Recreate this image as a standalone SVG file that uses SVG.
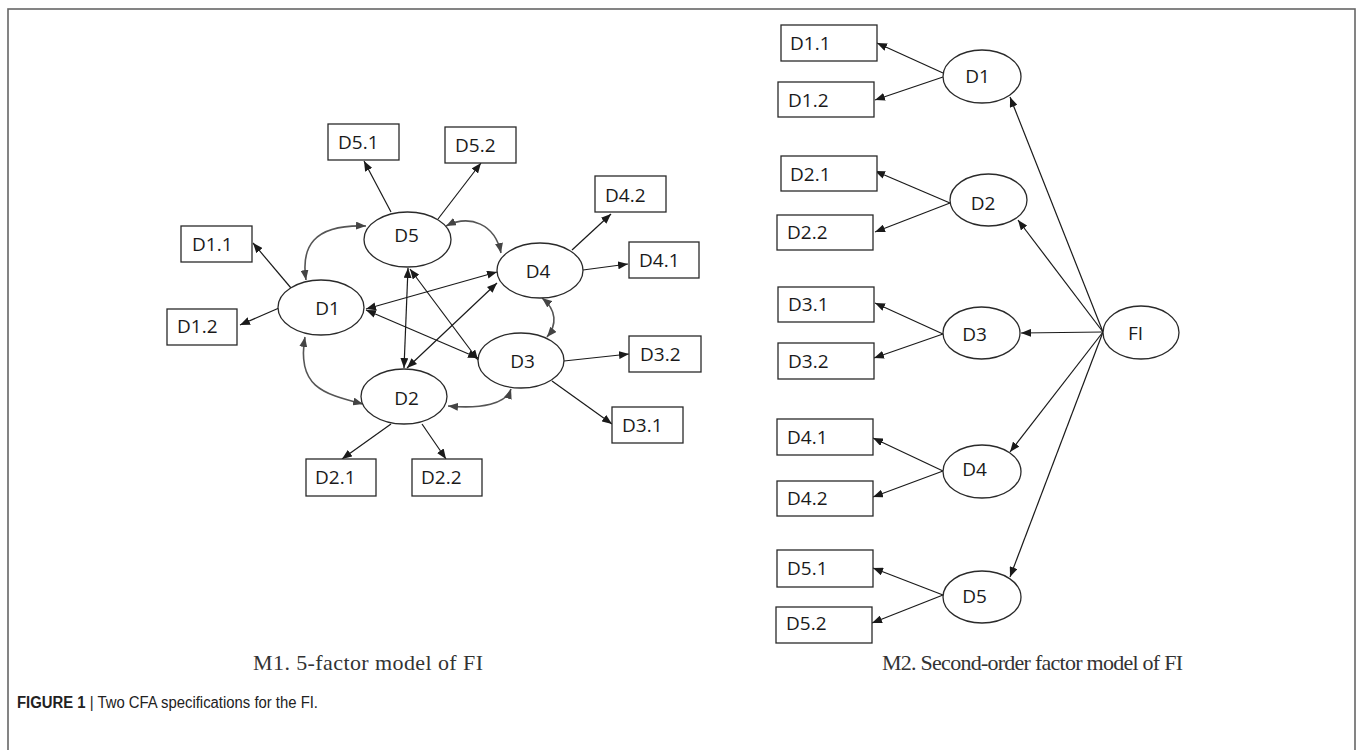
<svg xmlns="http://www.w3.org/2000/svg" width="1357" height="750" viewBox="0 0 1357 750">
<style>
.box{fill:#fff;stroke:#2a2a2a;stroke-width:1.3}
.ell{fill:#fff;stroke:#2a2a2a;stroke-width:1.3}
.lbl{font-family:"Open Sans","Liberation Sans",sans-serif;font-size:19px;fill:#1a1a1a}
.c{text-anchor:middle}
.ln{fill:none;stroke:#1a1a1a;stroke-width:1.2;marker-end:url(#ah)}
.dbl{fill:none;stroke:#1a1a1a;stroke-width:1.2;marker-start:url(#ah);marker-end:url(#ah)}
.cv{fill:none;stroke:#555;stroke-width:1.6;marker-start:url(#ahg);marker-end:url(#ahg)}
.sub{font-family:"Liberation Serif",serif;font-size:22px;fill:#333}
.cap{font-family:"Liberation Sans",Arial,sans-serif;font-size:16px;fill:#222}
</style>
<defs>
<marker id="ah" markerUnits="userSpaceOnUse" markerWidth="10" markerHeight="8" viewBox="0 0 10 8" refX="10" refY="4" orient="auto-start-reverse">
<path d="M0,0 L10,4 L0,8 z" fill="#1a1a1a"/>
</marker>
<marker id="ahg" markerUnits="userSpaceOnUse" markerWidth="10" markerHeight="8" viewBox="0 0 10 8" refX="10" refY="4" orient="auto-start-reverse">
<path d="M0,0 L10,4 L0,8 z" fill="#444"/>
</marker>
</defs>
<rect x="8" y="9" width="1347" height="760" fill="#fff" stroke="#666" stroke-width="1.6"/>

<g id="connectors">
<!-- M1 -->
<line class="ln" x1="391" y1="212" x2="364" y2="161"/>
<line class="ln" x1="438" y1="219" x2="481" y2="163"/>
<line class="ln" x1="291" y1="288" x2="253" y2="243"/>
<line class="ln" x1="279" y1="308" x2="240" y2="325"/>
<line class="ln" x1="572" y1="250" x2="611" y2="214"/>
<line class="ln" x1="583" y1="270" x2="628" y2="264"/>
<line class="ln" x1="564" y1="361" x2="629" y2="354"/>
<line class="ln" x1="552" y1="381" x2="612" y2="424"/>
<line class="ln" x1="391" y1="424" x2="342" y2="459"/>
<line class="ln" x1="422" y1="424" x2="446" y2="459"/>
<line class="dbl" x1="366" y1="309" x2="497" y2="272"/>
<line class="dbl" x1="407" y1="368" x2="497" y2="283"/>
<line class="dbl" x1="408" y1="268" x2="404" y2="368"/>
<line class="dbl" x1="410" y1="269" x2="478" y2="360"/>
<line class="dbl" x1="366" y1="310" x2="478" y2="358"/>
<path class="cv" d="M306,280 C301,248 312,224 366,226"/>
<path class="cv" d="M446,226 C470,214 495,224 501,253"/>
<path class="cv" d="M305,337 C296,388 325,394 363,404"/>
<path class="cv" d="M448,406 C482,409 506,404 511,389"/>
<path class="cv" d="M542,298 C557,310 557,325 547,337"/>
<!-- M2 -->
<line class="ln" x1="943" y1="73" x2="877" y2="43"/>
<line class="ln" x1="943" y1="77" x2="875" y2="100"/>
<line class="ln" x1="950" y1="203" x2="875" y2="171"/>
<line class="ln" x1="950" y1="203" x2="875" y2="232"/>
<line class="ln" x1="943" y1="334" x2="875" y2="303"/>
<line class="ln" x1="943" y1="334" x2="874" y2="358"/>
<line class="ln" x1="943" y1="471" x2="873" y2="438"/>
<line class="ln" x1="943" y1="471" x2="873" y2="497"/>
<line class="ln" x1="943" y1="595" x2="873" y2="568"/>
<line class="ln" x1="943" y1="595" x2="872" y2="623"/>
<line class="ln" x1="1103" y1="332" x2="1010" y2="97"/>
<line class="ln" x1="1103" y1="332" x2="1018" y2="220"/>
<line class="ln" x1="1103" y1="332" x2="1021" y2="333"/>
<line class="ln" x1="1103" y1="332" x2="1010" y2="452"/>
<line class="ln" x1="1103" y1="332" x2="1010" y2="577"/>
</g>

<!-- M1 nodes -->
<g id="m1-D5"><ellipse class="ell" cx="407.5" cy="239.5" rx="43.5" ry="27.5"/><text class="lbl c" x="406.5" y="242">D5</text></g>
<g id="m1-D1"><ellipse class="ell" cx="321" cy="307.5" rx="43" ry="27.5"/><text class="lbl c" x="327.5" y="315">D1</text></g>
<g id="m1-D4"><ellipse class="ell" cx="540" cy="270.5" rx="43" ry="27.5"/><text class="lbl c" x="538" y="278">D4</text></g>
<g id="m1-D3"><ellipse class="ell" cx="521" cy="360.5" rx="43" ry="27.5"/><text class="lbl c" x="522.5" y="368">D3</text></g>
<g id="m1-D2"><ellipse class="ell" cx="404" cy="396.5" rx="43" ry="27.5"/><text class="lbl c" x="406.5" y="405">D2</text></g>
<g id="m1-D5.1"><rect class="box" x="328" y="124" width="71" height="36"/><text class="lbl" x="338" y="149">D5.1</text></g>
<g id="m1-D5.2"><rect class="box" x="445" y="127" width="71" height="36"/><text class="lbl" x="455" y="152">D5.2</text></g>
<g id="m1-D1.1"><rect class="box" x="181" y="226" width="71" height="36"/><text class="lbl" x="192" y="251">D1.1</text></g>
<g id="m1-D1.2"><rect class="box" x="167" y="309" width="70" height="36"/><text class="lbl" x="177" y="333">D1.2</text></g>
<g id="m1-D4.2"><rect class="box" x="595" y="176" width="71" height="36"/><text class="lbl" x="605" y="202">D4.2</text></g>
<g id="m1-D4.1"><rect class="box" x="629" y="242" width="70" height="36"/><text class="lbl" x="639" y="267">D4.1</text></g>
<g id="m1-D3.2"><rect class="box" x="629" y="336" width="72" height="36"/><text class="lbl" x="640" y="361">D3.2</text></g>
<g id="m1-D3.1"><rect class="box" x="612" y="407" width="71" height="36"/><text class="lbl" x="622" y="432">D3.1</text></g>
<g id="m1-D2.1"><rect class="box" x="306" y="459" width="70" height="37"/><text class="lbl" x="315" y="484">D2.1</text></g>
<g id="m1-D2.2"><rect class="box" x="412" y="459" width="70" height="37"/><text class="lbl" x="421" y="484">D2.2</text></g>

<!-- M2 nodes -->
<g id="m2-D1"><ellipse class="ell" cx="982" cy="76.5" rx="39" ry="26.5"/><text class="lbl c" x="977.5" y="83">D1</text></g>
<g id="m2-D2"><ellipse class="ell" cx="988.5" cy="200" rx="38.5" ry="26"/><text class="lbl c" x="983" y="210">D2</text></g>
<g id="m2-D3"><ellipse class="ell" cx="981.5" cy="333" rx="38.5" ry="26"/><text class="lbl c" x="974.5" y="341">D3</text></g>
<g id="m2-FI"><ellipse class="ell" cx="1141" cy="332.5" rx="38" ry="26.5"/><text class="lbl c" x="1135.5" y="340">FI</text></g>
<g id="m2-D4"><ellipse class="ell" cx="982" cy="471.5" rx="39" ry="26.5"/><text class="lbl c" x="974.5" y="476">D4</text></g>
<g id="m2-D5"><ellipse class="ell" cx="982" cy="597" rx="39" ry="26"/><text class="lbl c" x="974.5" y="603">D5</text></g>
<g id="m2-D1.1"><rect class="box" x="781" y="25" width="96" height="36"/><text class="lbl" x="790" y="50">D1.1</text></g>
<g id="m2-D1.2"><rect class="box" x="778" y="82" width="96" height="35"/><text class="lbl" x="788" y="107">D1.2</text></g>
<g id="m2-D2.1"><rect class="box" x="781" y="156" width="96" height="35"/><text class="lbl" x="790" y="181">D2.1</text></g>
<g id="m2-D2.2"><rect class="box" x="777" y="215" width="96" height="35"/><text class="lbl" x="787" y="239">D2.2</text></g>
<g id="m2-D3.1"><rect class="box" x="778" y="287" width="96" height="35"/><text class="lbl" x="788" y="311">D3.1</text></g>
<g id="m2-D3.2"><rect class="box" x="778" y="343" width="96" height="36"/><text class="lbl" x="788" y="368">D3.2</text></g>
<g id="m2-D4.1"><rect class="box" x="777" y="419" width="96" height="36"/><text class="lbl" x="787" y="444">D4.1</text></g>
<g id="m2-D4.2"><rect class="box" x="777" y="481" width="96" height="35"/><text class="lbl" x="787" y="505">D4.2</text></g>
<g id="m2-D5.1"><rect class="box" x="777" y="550" width="96" height="37"/><text class="lbl" x="787" y="575">D5.1</text></g>
<g id="m2-D5.2"><rect class="box" x="776" y="607" width="96" height="36"/><text class="lbl" x="786" y="630">D5.2</text></g>

<text class="sub" x="253" y="670" textLength="230">M1. 5-factor model of FI</text>
<text class="sub" x="882" y="670" textLength="301">M2. Second-order factor model of FI</text>
<text class="cap" x="17" y="708" textLength="301" lengthAdjust="spacingAndGlyphs"><tspan font-weight="bold">FIGURE 1</tspan> | Two CFA specifications for the FI.</text>
</svg>
